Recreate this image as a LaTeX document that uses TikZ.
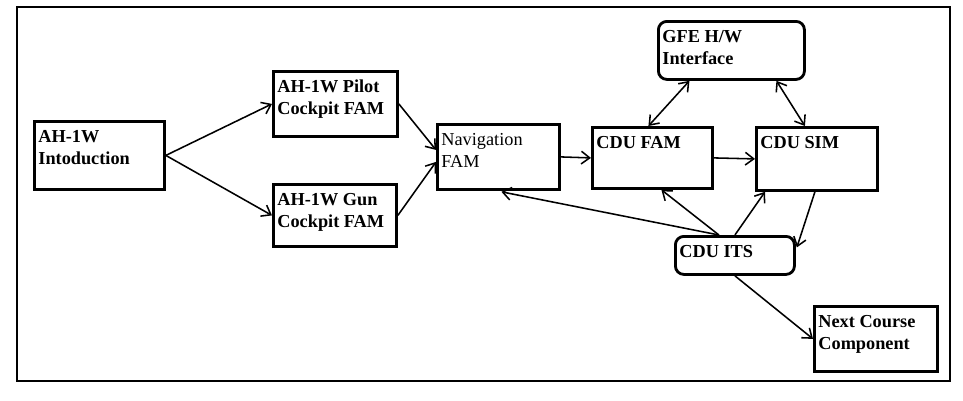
\documentclass[tikz,border=0pt]{standalone}
\usepackage{fontspec}
\setmainfont{Liberation Serif}
\usetikzlibrary{arrows.meta, calc}
\tikzset{
    >={Straight Barb[length=6pt,width=9pt]}, % open arrow heads
    box/.style={draw, line width=2pt, anchor=north west, inner xsep=0.1cm, inner ysep=0pt,
        font=\bfseries\fontsize{13}{15.5}\selectfont}, % text sits in the top left corner
    roundbox/.style={box, rounded corners=6pt},
}
\tikzstyle{arrow} = [line width=1.1pt, ->]
% width, height, text of a box
\newcommand{\boxtext}[3]{\parbox[t][#2][t]{\dimexpr#1-0.2cm\relax}{\rule{0pt}{15pt}#3}}

\begin{document}
\begin{tikzpicture}[x=0.025cm, y=-0.025cm]
    \useasboundingbox (0,0) rectangle (963,401);
    \draw[line width=2pt] (17,7) rectangle (950,381);

    % Boxes
    \node[box] (intro) at (33,120) {\boxtext{3.25cm}{1.7cm}{AH-1W\\Intoduction}};
    \node[box] (pilot) at (272,70) {\boxtext{3.1cm}{1.625cm}{AH-1W Pilot\\Cockpit FAM}};
    \node[box] (gun) at (272,183) {\boxtext{3.075cm}{1.55cm}{AH-1W Gun\\Cockpit FAM}};
    \node[box, font=\fontsize{13}{15.5}\selectfont] (nav) at (436,123) {\boxtext{3.05cm}{1.625cm}{Navigation\\FAM}};
    \node[box] (fam) at (591,126) {\boxtext{3.0cm}{1.525cm}{CDU FAM}};
    \node[box] (sim) at (755,126) {\boxtext{3.025cm}{1.575cm}{CDU SIM}};
    \node[roundbox] (gfe) at (657,20) {\boxtext{3.65cm}{1.45cm}{GFE H/W\\Interface}};
    \node[roundbox] (its) at (674,235) {\boxtext{2.975cm}{0.95cm}{CDU ITS}};
    \node[box] (next) at (813,305) {\boxtext{3.075cm}{1.625cm}{Next Course\\Component}};

    % Links
    \path[arrow]
    (intro.east) edge (pilot.west)
                 edge (gun.west)
    (pilot.east) edge ($(nav.west)+(0,-7)$)
    (gun.east) edge ($(nav.west)+(0,5)$)
    (nav.east) edge (fam.west)
    (fam.east) edge (sim.west)
    ($(gfe.south)+(-42,0)$) edge[<->] ($(fam.north)+(-4,0)$)
    ($(gfe.south)+(45,0)$) edge[<->] ($(sim.north)+(-12,0)$)
    ($(its.north)+(-16,0)$) edge ($(nav.south)+(3,1)$)
                            edge ($(fam.south)+(9,0)$)
    (its.north) edge ($(sim.south west)+(10,0)$)
    ($(sim.south)+(-2,0)$) edge ($(its.east)+(1,-8)$)
    (its.south) edge (next.west);
\end{tikzpicture}
\end{document}
